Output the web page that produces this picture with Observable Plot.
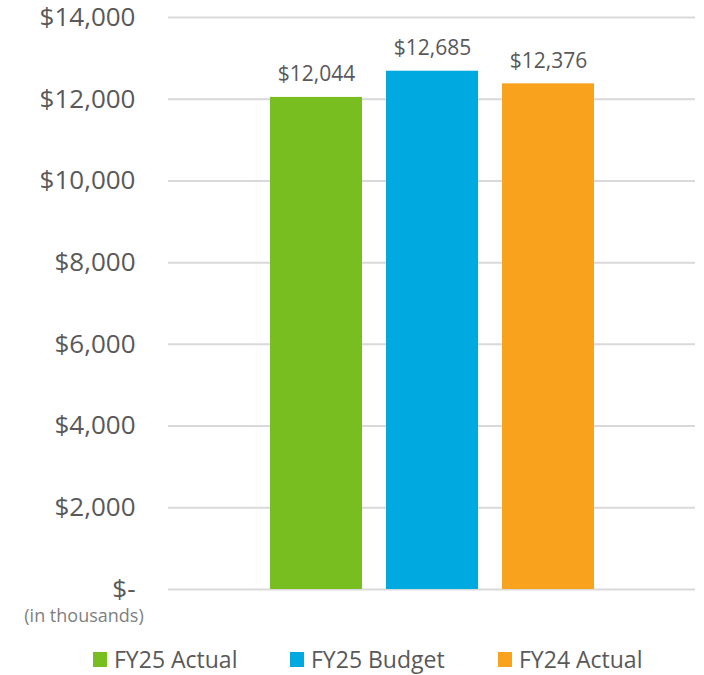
<!DOCTYPE html>
<html>
<head>
<meta charset="utf-8">
<script src="https://cdn.jsdelivr.net/npm/d3@7"></script>
<script src="https://cdn.jsdelivr.net/npm/@observablehq/plot@0.6"></script>
<style>
  body { margin: 0; background: #fff; font-family: "Open Sans", sans-serif; color: #595959; }
  #wrap { position: relative; width: 704px; height: 675px; }
  #chart { position: absolute; left: 0; top: 0; }
  #chart svg { overflow: visible; }
  #unit { position: absolute; left: 0; top: 605px; width: 168px; text-align: center; font-size: 18px; line-height: 20px; color: #7f7f7f; }
  #legend { position: absolute; top: 644px; left: 0; width: 704px; height: 31px; font-size: 23px; line-height: 31px; }
  .item { position: absolute; top: 0; display: flex; align-items: center; white-space: nowrap; }
  .sw { width: 14px; height: 15px; margin-right: 7px; display: inline-block; }
</style>
</head>
<body>
<div id="wrap">
  <div id="chart"></div>
  <div id="unit">(in thousands)</div>
  <div id="legend"></div>
</div>
<script>
const series = ["FY25 Actual", "FY25 Budget", "FY24 Actual"];
const values = [12044, 12685, 12376];
const colors = ["#78BE20", "#00A9E0", "#F8A21E"];
const yTicks = [0, 2000, 4000, 6000, 8000, 10000, 12000, 14000];

const data = series.map((s, i) => ({series: s, value: values[i]}));
const fmt = d3.format(",");

const chart = Plot.plot({
  width: 704,
  height: 604,
  marginLeft: 168,
  marginRight: 9,
  marginTop: 17,
  marginBottom: 15,
  style: {fontFamily: "Open Sans, sans-serif", color: "#595959", background: "#fff", overflow: "visible"},
  x: {domain: series, range: [269, 595], paddingInner: 0.21, paddingOuter: 0, axis: null},
  y: {domain: [0, 14000], ticks: yTicks},
  color: {domain: series, range: colors},
  marks: [
    Plot.gridY(yTicks, {stroke: "#d9d9d9", strokeOpacity: 1, strokeWidth: 2}),
    Plot.axisY(yTicks, {
      tickSize: 0, tickPadding: 33, fontSize: 26, fill: "#595959",
      tickFormat: d => d === 0 ? "$-" : "$" + fmt(d), label: null
    }),
    Plot.barY(data, {x: "series", y: "value", fill: "series"}),
    Plot.text(data, {
      x: "series", y: "value", text: d => "$" + fmt(d.value),
      lineAnchor: "bottom", dy: -16, fontSize: 21, fill: "#595959"
    })
  ]
});
document.getElementById("chart").appendChild(chart);

const legendLefts = [93, 290, 498];
const legend = document.getElementById("legend");
series.forEach((s, i) => {
  const item = document.createElement("div");
  item.className = "item";
  item.style.left = legendLefts[i] + "px";
  item.innerHTML = `<span class="sw" style="background:${colors[i]}"></span><span>${s}</span>`;
  legend.appendChild(item);
});
</script>
</body>
</html>
